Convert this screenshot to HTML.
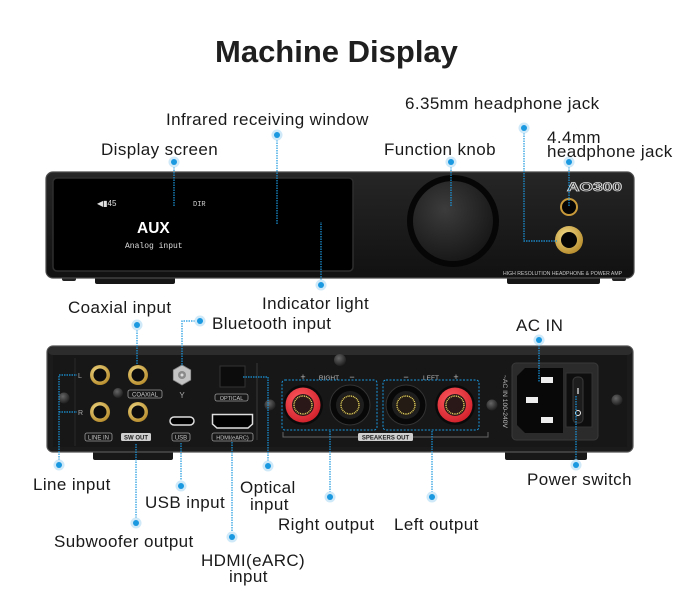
<!DOCTYPE html>
<html><head><meta charset="utf-8"><style>
html,body{margin:0;padding:0;background:#fff;}
svg{display:block;}
.lb{font-family:"Liberation Sans",sans-serif;font-size:17px;fill:#1a1a1a;letter-spacing:0.4px;}
.tiny{font-family:"Liberation Sans",sans-serif;fill:#c8c8c8;}
</style></head><body>
<svg width="700" height="607" viewBox="0 0 700 607" xmlns="http://www.w3.org/2000/svg">
<defs>
<linearGradient id="body" x1="0" y1="0" x2="0" y2="1"><stop offset="0" stop-color="#262626"/><stop offset="1" stop-color="#111"/></linearGradient>
<radialGradient id="knob" cx="0.4" cy="0.35" r="0.7"><stop offset="0" stop-color="#3c3c3c"/><stop offset="1" stop-color="#161616"/></radialGradient>
<radialGradient id="gold" cx="0.4" cy="0.35" r="0.7"><stop offset="0" stop-color="#f3dc8a"/><stop offset="1" stop-color="#b58a2a"/></radialGradient>
<radialGradient id="screw" cx="0.4" cy="0.35" r="0.7"><stop offset="0" stop-color="#666"/><stop offset="1" stop-color="#1a1a1a"/></radialGradient>
<radialGradient id="red" cx="0.4" cy="0.35" r="0.7"><stop offset="0" stop-color="#ff5a60"/><stop offset="1" stop-color="#d0202a"/></radialGradient>
</defs>

<!-- Title -->
<text x="215" y="62" style="font-family:'Liberation Sans',sans-serif;font-weight:bold;font-size:31px;fill:#1f1f1f">Machine Display</text>

<!-- ================= FRONT DEVICE ================= -->
<rect x="95" y="272" width="80" height="12" rx="2" fill="#161616"/>
<rect x="507" y="272" width="93" height="12" rx="2" fill="#161616"/>
<rect x="62" y="274" width="14" height="7" rx="2" fill="#222"/>
<rect x="612" y="274" width="14" height="7" rx="2" fill="#222"/>
<rect x="46" y="172" width="588" height="106" rx="7" fill="url(#body)" stroke="#4a4a4a" stroke-width="1.2"/>
<rect x="53" y="178" width="300" height="93" rx="4" fill="#000" stroke="#2e2e2e" stroke-width="1.5"/>
<text x="97" y="206" class="tiny" style="font-size:8px;fill:#e0e0e0">◀▮45</text>
<text x="193" y="206" class="tiny" style="font-size:7px;fill:#cfcfcf;font-family:'Liberation Mono',monospace">DIR</text>
<text x="137" y="233" style="font-family:'Liberation Sans',sans-serif;font-weight:bold;font-size:15.5px;fill:#fff">AUX</text>
<text x="125" y="248" style="font-family:'Liberation Mono',monospace;font-size:8px;fill:#ddd">Analog input</text>

<circle cx="453" cy="221" r="46" fill="#060606"/>
<circle cx="453" cy="221" r="40" fill="url(#knob)"/>
<text x="567" y="191" style="font-family:'Liberation Sans',sans-serif;font-weight:bold;font-size:12px;fill:none;stroke:#d8d8d8;stroke-width:0.8" textLength="55" lengthAdjust="spacingAndGlyphs">AO300</text>
<circle cx="569" cy="207" r="8" fill="#050505" stroke="#c99a3a" stroke-width="2"/>
<circle cx="569" cy="240" r="14" fill="url(#gold)"/>
<circle cx="569" cy="240" r="8" fill="#050505"/>
<text x="503" y="275" class="tiny" style="font-size:5.5px" textLength="119" lengthAdjust="spacingAndGlyphs">HIGH RESOLUTION HEADPHONE &amp; POWER AMP</text>

<!-- ================= BACK DEVICE ================= -->
<rect x="93" y="447" width="80" height="13" rx="2" fill="#181818"/>
<rect x="505" y="447" width="82" height="13" rx="2" fill="#181818"/>
<rect x="47" y="346" width="586" height="106" rx="6" fill="#1b1b1b" stroke="#555" stroke-width="1.2"/>
<rect x="48" y="347" width="584" height="8" rx="5" fill="#2c2c2c"/>
<rect x="53" y="355" width="574" height="92" fill="#171717"/>
<line x1="75" y1="358" x2="75" y2="446" stroke="#2a2a2a"/>

<circle cx="64" cy="398" r="5.5" fill="url(#screw)"/>
<text x="78" y="378" class="tiny" style="font-size:7px;fill:#aaa">L</text>
<text x="78" y="415" class="tiny" style="font-size:7px;fill:#aaa">R</text>
<g>
<circle cx="100" cy="375" r="10" fill="url(#gold)"/><circle cx="100" cy="375" r="6.5" fill="#0d0d0d"/>
<circle cx="100" cy="412" r="10" fill="url(#gold)"/><circle cx="100" cy="412" r="6.5" fill="#0d0d0d"/>
<circle cx="138" cy="375" r="10" fill="url(#gold)"/><circle cx="138" cy="375" r="6.5" fill="#0d0d0d"/>
<circle cx="138" cy="412" r="10" fill="url(#gold)"/><circle cx="138" cy="412" r="6.5" fill="#0d0d0d"/>
</g>
<circle cx="118" cy="393" r="5" fill="url(#screw)"/>
<rect x="128" y="390" width="34" height="8" rx="2" fill="none" stroke="#999" stroke-width="0.8"/>
<text x="145" y="396.5" text-anchor="middle" class="tiny" style="font-size:6px">COAXIAL</text>
<rect x="85" y="433" width="27" height="8" rx="2" fill="none" stroke="#999" stroke-width="0.8"/>
<text x="98.5" y="439.5" text-anchor="middle" class="tiny" style="font-size:6px">LINE IN</text>
<rect x="121" y="433" width="30" height="8" rx="1.5" fill="#cfcfcf"/>
<text x="136" y="439.5" text-anchor="middle" class="tiny" style="font-size:6px;fill:#222;font-weight:bold">SW OUT</text>

<polygon points="182,365 190.7,370 190.7,380 182,385 173.3,380 173.3,370" fill="#c4c4c4" stroke="#888" stroke-width="0.8"/>
<circle cx="182" cy="375" r="4" fill="#8a8a8a"/><circle cx="182" cy="375" r="1.5" fill="#ddd"/>
<text x="182" y="398" text-anchor="middle" class="tiny" style="font-size:8px;fill:#aaa">Y</text>

<rect x="170" y="417" width="24" height="8" rx="4" fill="#000" stroke="#ddd" stroke-width="1.5"/>
<rect x="172" y="433" width="18" height="8" rx="2" fill="none" stroke="#999" stroke-width="0.8"/>
<text x="181" y="439.5" text-anchor="middle" class="tiny" style="font-size:6px">USB</text>

<rect x="220" y="366" width="25" height="21" fill="#0c0c0c" stroke="#333"/>
<rect x="215" y="394" width="33" height="7" rx="2" fill="none" stroke="#999" stroke-width="0.8"/>
<text x="231.5" y="400" text-anchor="middle" class="tiny" style="font-size:5.5px">OPTICAL</text>
<path d="M212.5 414.5 H252.5 V424 L248 428 H217 L212.5 424 Z" fill="#000" stroke="#ddd" stroke-width="1.5"/>
<rect x="212" y="433" width="41" height="8" rx="2" fill="none" stroke="#999" stroke-width="0.8"/>
<text x="232.5" y="439.5" text-anchor="middle" class="tiny" style="font-size:5.5px">HDMI(eARC)</text>
<line x1="257" y1="363" x2="257" y2="440" stroke="#3a3a3a"/>

<circle cx="270" cy="405" r="5.5" fill="url(#screw)"/>
<circle cx="340" cy="360" r="6" fill="url(#screw)"/>
<circle cx="492" cy="405" r="5.5" fill="url(#screw)"/>
<circle cx="617" cy="400" r="5.5" fill="url(#screw)"/>

<!-- speakers -->
<text x="303" y="380" text-anchor="middle" class="tiny" style="font-size:9px;fill:#bbb">+</text>
<text x="329" y="380" text-anchor="middle" class="tiny" style="font-size:6.5px;fill:#bbb">RIGHT</text>
<text x="352" y="380" text-anchor="middle" class="tiny" style="font-size:9px;fill:#bbb">−</text>
<text x="406" y="380" text-anchor="middle" class="tiny" style="font-size:9px;fill:#bbb">−</text>
<text x="431" y="380" text-anchor="middle" class="tiny" style="font-size:6.5px;fill:#bbb">LEFT</text>
<text x="456" y="380" text-anchor="middle" class="tiny" style="font-size:9px;fill:#bbb">+</text>
<g>
<circle cx="303" cy="405" r="20" fill="#0a0a0a"/><circle cx="303" cy="405" r="17.5" fill="url(#red)"/>
<circle cx="303" cy="405" r="11" fill="#2a1818"/><circle cx="303" cy="405" r="9" fill="none" stroke="#e8d860" stroke-width="1.4" stroke-dasharray="1 0.8"/>
<circle cx="455" cy="405" r="20" fill="#0a0a0a"/><circle cx="455" cy="405" r="17.5" fill="url(#red)"/>
<circle cx="455" cy="405" r="11" fill="#2a1818"/><circle cx="455" cy="405" r="9" fill="none" stroke="#e8d860" stroke-width="1.4" stroke-dasharray="1 0.8"/>
<circle cx="350" cy="405" r="20" fill="#080808" stroke="#333"/><circle cx="350" cy="405" r="14" fill="#1e1e1e"/>
<circle cx="350" cy="405" r="10.5" fill="#241c14"/><circle cx="350" cy="405" r="9" fill="none" stroke="#e8d860" stroke-width="1.4" stroke-dasharray="1 0.8"/>
<circle cx="406" cy="405" r="20" fill="#080808" stroke="#333"/><circle cx="406" cy="405" r="14" fill="#1e1e1e"/>
<circle cx="406" cy="405" r="10.5" fill="#241c14"/><circle cx="406" cy="405" r="9" fill="none" stroke="#e8d860" stroke-width="1.4" stroke-dasharray="1 0.8"/>
</g>
<rect x="282" y="380" width="95" height="50" rx="3" fill="none" stroke="#1a98e0" stroke-width="1" stroke-dasharray="2 1.5"/>
<rect x="383" y="380" width="96" height="50" rx="3" fill="none" stroke="#1a98e0" stroke-width="1" stroke-dasharray="2 1.5"/>
<path d="M283 432 V437 H488 V432" fill="none" stroke="#666" stroke-width="1"/>
<rect x="358" y="433" width="55" height="8" rx="1.5" fill="#cfcfcf"/>
<text x="385.5" y="439.5" text-anchor="middle" class="tiny" style="font-size:6px;fill:#222;font-weight:bold">SPEAKERS OUT</text>

<text x="503" y="375" transform="rotate(90 503 375)" class="tiny" style="font-size:6.5px;fill:#bbb" textLength="53" lengthAdjust="spacingAndGlyphs">~AC IN 100-240V</text>
<rect x="512" y="363" width="86" height="77" rx="4" fill="#2b2b2b" stroke="#3a3a3a"/>
<path d="M525 368 H563 V433 H525 L517 425 V376 Z" fill="#080808"/>
<rect x="541" y="377" width="12" height="6" fill="#eee"/>
<rect x="526" y="397" width="12" height="6" fill="#eee"/>
<rect x="541" y="417" width="12" height="6" fill="#eee"/>
<rect x="566" y="373" width="26" height="54" fill="#0e0e0e" stroke="#333"/>
<rect x="573" y="377" width="10" height="46" rx="4" fill="#1d1d1d" stroke="#3a3a3a"/>
<line x1="578" y1="388" x2="578" y2="394" stroke="#eee" stroke-width="1.2"/>
<circle cx="578" cy="413" r="2.5" fill="none" stroke="#eee" stroke-width="1"/>

<!-- ================= CONNECTORS ================= -->
<g fill="none" stroke="#1a98e0" stroke-width="1.2" stroke-dasharray="1.5 1">
<path d="M174 162 V207"/>
<path d="M277 135 V225"/>
<path d="M321 285 V222"/>
<path d="M451 162 V207"/>
<path d="M524 128 V241 H557"/>
<path d="M569 162 V207"/>
<path d="M137 325 V365"/>
<path d="M200 321 H182 V366"/>
<path d="M539 340 V382"/>
<path d="M59 465 V375 H77 M59 412 H77"/>
<path d="M136 444 V523"/>
<path d="M181 443 V486"/>
<path d="M232 442 V537"/>
<path d="M243 377 H268 V466"/>
<path d="M330 431 V497"/>
<path d="M432 431 V497"/>
<path d="M576 396 V465"/>
</g>
<g>
<g fill="#cfe9f9">
<circle cx="174" cy="162" r="5.5"/><circle cx="277" cy="135" r="5.5"/><circle cx="321" cy="285" r="5.5"/>
<circle cx="451" cy="162" r="5.5"/><circle cx="524" cy="128" r="5.5"/><circle cx="569" cy="162" r="5.5"/>
<circle cx="137" cy="325" r="5.5"/><circle cx="200" cy="321" r="5.5"/><circle cx="539" cy="340" r="5.5"/>
<circle cx="59" cy="465" r="5.5"/><circle cx="136" cy="523" r="5.5"/><circle cx="181" cy="486" r="5.5"/>
<circle cx="232" cy="537" r="5.5"/><circle cx="268" cy="466" r="5.5"/><circle cx="330" cy="497" r="5.5"/>
<circle cx="432" cy="497" r="5.5"/><circle cx="576" cy="465" r="5.5"/>
</g>
<g fill="#1a98e0">
<circle cx="174" cy="162" r="3"/><circle cx="277" cy="135" r="3"/><circle cx="321" cy="285" r="3"/>
<circle cx="451" cy="162" r="3"/><circle cx="524" cy="128" r="3"/><circle cx="569" cy="162" r="3"/>
<circle cx="137" cy="325" r="3"/><circle cx="200" cy="321" r="3"/><circle cx="539" cy="340" r="3"/>
<circle cx="59" cy="465" r="3"/><circle cx="136" cy="523" r="3"/><circle cx="181" cy="486" r="3"/>
<circle cx="232" cy="537" r="3"/><circle cx="268" cy="466" r="3"/><circle cx="330" cy="497" r="3"/>
<circle cx="432" cy="497" r="3"/><circle cx="576" cy="465" r="3"/>
</g>
</g>

<!-- ================= LABELS ================= -->
<text class="lb" x="166" y="125">Infrared receiving window</text>
<text class="lb" x="101" y="155">Display screen</text>
<text class="lb" x="405" y="109">6.35mm headphone jack</text>
<text class="lb" x="384" y="155">Function knob</text>
<text class="lb" x="547" y="143">4.4mm</text>
<text class="lb" x="547" y="157">headphone jack</text>
<text class="lb" x="262" y="309">Indicator light</text>
<text class="lb" x="68" y="313">Coaxial input</text>
<text class="lb" x="212" y="329">Bluetooth input</text>
<text class="lb" x="516" y="331">AC IN</text>
<text class="lb" x="33" y="490">Line input</text>
<text class="lb" x="145" y="508">USB input</text>
<text class="lb" x="240" y="493">Optical</text>
<text class="lb" x="250" y="510">input</text>
<text class="lb" x="54" y="547">Subwoofer output</text>
<text class="lb" x="278" y="530">Right output</text>
<text class="lb" x="394" y="530">Left output</text>
<text class="lb" x="527" y="485">Power switch</text>
<text class="lb" x="201" y="566">HDMI(eARC)</text>
<text class="lb" x="229" y="582">input</text>
</svg>
</body></html>
